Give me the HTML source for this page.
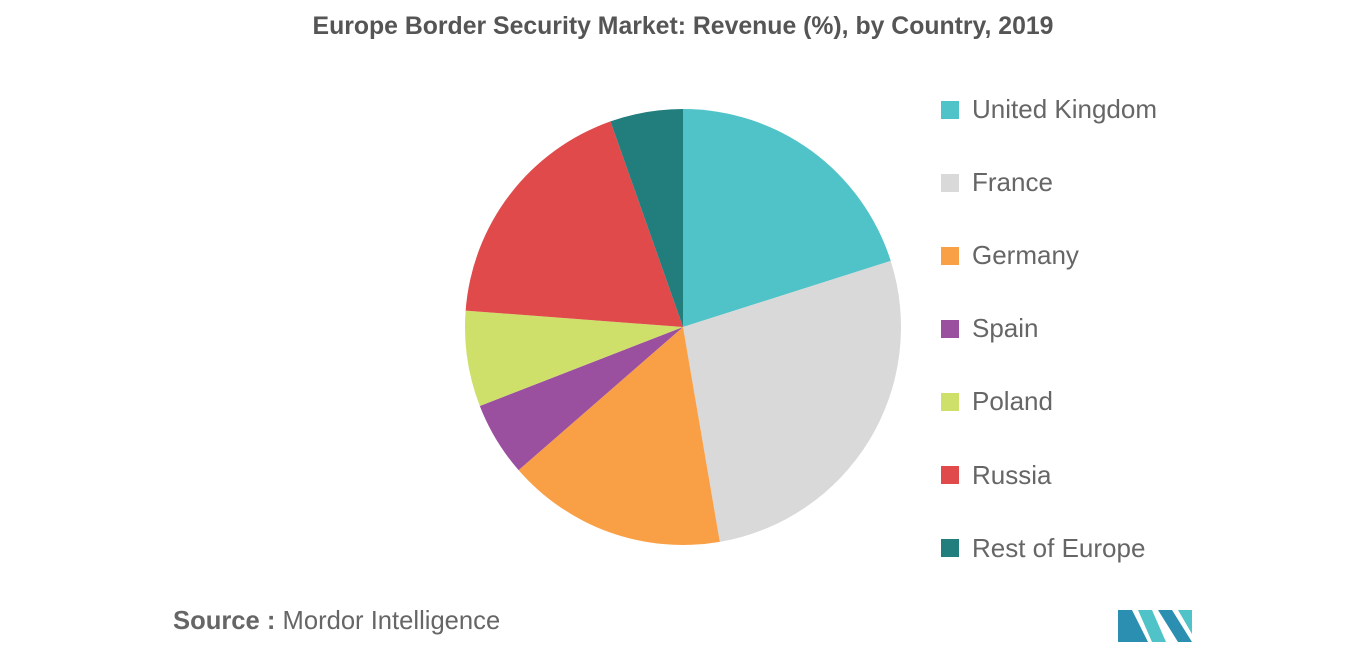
<!DOCTYPE html>
<html><head><meta charset="utf-8"><style>
body{margin:0;width:1366px;height:655px;background:#fff;font-family:"Liberation Sans",sans-serif;overflow:hidden;position:relative}
#title{position:absolute;top:13px;left:0;width:1366px;text-align:center;font-size:24.8px;font-weight:bold;color:#555}
.leg{position:absolute;left:941px;font-size:26px;color:#666;display:flex;align-items:center}
.leg span.sw{width:18px;height:18px;display:inline-block;margin-right:13px}
#src{position:absolute;left:173px;top:607px;font-size:25.6px;color:#666}
</style></head><body>
<div id="title">Europe Border Security Market: Revenue (%), by Country, 2019</div>
<svg id="pie" width="1366" height="655" style="position:absolute;left:0;top:0"></svg>
<div id="legend"></div>
<div id="src"><b>Source :</b> Mordor Intelligence</div>
<svg style="position:absolute;left:1118px;top:604px" width="74" height="38">
<polygon points="0,38 0,6 14,6 30,38" fill="#2a8fb0"/><polygon points="20,6 34,6 48,38 34,38" fill="#4fc3c8"/>
<polygon points="40,6 54,6 74,38 60,38" fill="#2a8fb0"/><polygon points="60,6 74,6 74,30" fill="#4fc3c8"/>
</svg>
<script>
const categories=["United Kingdom","France","Germany","Spain","Poland","Russia","Rest of Europe"];
const values=[20.1,27.2,16.3,5.5,7.1,18.4,5.4];
const colors=["#4fc3c8","#d9d9d9","#f9a046","#9b4f9f","#cfe06a","#e04a4a","#227d7d"];
const cx=683,cy=327,r=218;
const svg=document.getElementById('pie');
const total=values.reduce((a,b)=>a+b,0);
let a0=0;
function pt(a){return [cx+r*Math.sin(a),cy-r*Math.cos(a)];}
values.forEach((v,i)=>{
  const a1=a0+v/total*2*Math.PI;
  const p0=pt(a0),p1=pt(a1);
  const large=(a1-a0)>Math.PI?1:0;
  const p=document.createElementNS('http://www.w3.org/2000/svg','path');
  p.setAttribute('d',`M${cx},${cy}L${p0[0]},${p0[1]}A${r},${r} 0 ${large} 1 ${p1[0]},${p1[1]}Z`);
  p.setAttribute('fill',colors[i]);
  
  
  svg.appendChild(p);
  a0=a1;
});
const leg=document.getElementById('legend');
categories.forEach((c,i)=>{
  const d=document.createElement('div');
  d.className='leg';
  d.style.top=(94+i*73.1)+'px';
  
  
  d.innerHTML=`<span class="sw" style="background:${colors[i]}"></span>${c}`;
  leg.appendChild(d);
});
</script>
</body></html>
